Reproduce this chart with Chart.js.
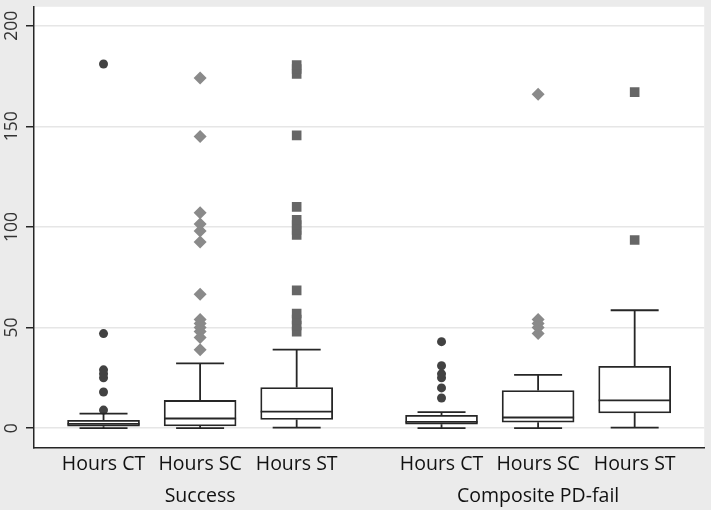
<!DOCTYPE html>
<html>
<head>
<meta charset="utf-8">
<script src="https://cdn.jsdelivr.net/npm/chart.js@4/dist/chart.umd.min.js"></script>
<style>
  html, body { margin: 0; padding: 0; background: #ebebeb; }
  canvas { display: block; }
</style>
</head>
<body>
<canvas id="boxChart" width="711" height="510"></canvas>
<script>
// chart data
const groupLabels = ["Success", "Composite PD-fail"];
const measureLabels = ["Hours CT", "Hours SC", "Hours ST"];
const yTicks = [0, 50, 100, 150, 200];

// one entry per box: Success CT, SC, ST, then Composite PD-fail CT, SC, ST
const lowerWhisker = [0, 0, 0.3, 0, 0, 0.3];
const q1 = [1, 1.1, 4.3, 2, 3, 7.6];
const median = [2.1, 4.8, 8.2, 3.1, 5.3, 13.8];
const q3 = [3.9, 13.8, 20.2, 6.4, 18.7, 30.7];
const upperWhisker = [7.2, 32.2, 39, 8, 26.5, 58.6];
const outliers = [
  [9, 18, 25, 27, 29, 47, 181],
  [39, 45, 48, 50, 52, 54, 66.5, 92.5, 98, 101.5, 107, 145, 174],
  [48, 51, 54, 57, 68.5, 96, 98.5, 101, 103.5, 110, 145.5, 176, 178.5, 180.5],
  [15, 20, 25, 27, 31, 43],
  [47, 50, 52, 54, 166],
  [93.5, 167]
];

// x position of each box on the linear axis (groups separated by a wider gap)
function xPos(i) {
  return i + 1 + (i >= 3 ? 0.5 : 0);
}
const boxCount = q1.length;

const boxData = [];
for (let i = 0; i < boxCount; i++) {
  boxData.push({ x: xPos(i), y: [q1[i], q3[i]] });
}

// outlier points split by measure so each gets its own marker
function outlierPoints(measure) {
  const pts = [];
  for (let i = 0; i < boxCount; i++) {
    if (i % 3 !== measure) continue;
    outliers[i].forEach((v) => pts.push({ x: xPos(i), y: v }));
  }
  return pts;
}

const lineColor = "#262626";
const boxLine = 1.8;

// background: grey page, white plot region
const backgroundPlugin = {
  id: "background",
  beforeDraw(chart) {
    const { ctx, chartArea } = chart;
    ctx.save();
    ctx.fillStyle = "#ebebeb";
    ctx.fillRect(0, 0, chart.width, chart.height);
    ctx.fillStyle = "#ffffff";
    ctx.fillRect(chartArea.left, chartArea.top, chartArea.right - chartArea.left, chartArea.bottom - chartArea.top);
    ctx.restore();
  }
};

// medians, whiskers and caps for the boxes
const whiskerPlugin = {
  id: "whiskers",
  afterDatasetsDraw(chart) {
    const { ctx } = chart;
    const xs = chart.scales.x;
    const ys = chart.scales.y;
    const halfBox = 36;
    const halfCap = 24;
    ctx.save();
    ctx.strokeStyle = lineColor;
    ctx.lineWidth = boxLine;
    for (let i = 0; i < boxCount; i++) {
      const cx = xs.getPixelForValue(xPos(i));
      const yMed = ys.getPixelForValue(median[i]);
      const yQ1 = ys.getPixelForValue(q1[i]);
      const yQ3 = ys.getPixelForValue(q3[i]);
      const yLo = ys.getPixelForValue(lowerWhisker[i]);
      const yHi = ys.getPixelForValue(upperWhisker[i]);
      ctx.beginPath();
      ctx.moveTo(cx - halfBox, yMed);
      ctx.lineTo(cx + halfBox, yMed);
      ctx.moveTo(cx, yQ3);
      ctx.lineTo(cx, yHi);
      ctx.moveTo(cx - halfCap, yHi);
      ctx.lineTo(cx + halfCap, yHi);
      ctx.moveTo(cx, yQ1);
      ctx.lineTo(cx, yLo);
      ctx.moveTo(cx - halfCap, yLo);
      ctx.lineTo(cx + halfCap, yLo);
      ctx.stroke();
    }
    ctx.restore();
  }
};

// rotated y tick labels
const yLabelPlugin = {
  id: "yLabels",
  afterDraw(chart) {
    const { ctx } = chart;
    const ys = chart.scales.y;
    ctx.save();
    ctx.fillStyle = "#333";
    ctx.font = "17.5px 'Open Sans'";
    ctx.textAlign = "center";
    ctx.textBaseline = "middle";
    ys.ticks.forEach((t) => {
      const py = ys.getPixelForValue(t.value);
      ctx.save();
      ctx.translate(12, py);
      ctx.rotate(-Math.PI / 2);
      ctx.fillText(String(t.value), 0, 0);
      ctx.restore();
    });
    ctx.restore();
  }
};

const ctx = document.getElementById("boxChart").getContext("2d");
new Chart(ctx, {
  data: {
    datasets: [
      {
        type: "bar",
        data: boxData,
        backgroundColor: "#ffffff",
        borderColor: lineColor,
        borderWidth: boxLine,
        borderSkipped: false,
        barThickness: 72,
        order: 2
      },
      {
        type: "scatter",
        data: outlierPoints(0),
        pointStyle: "circle",
        pointRadius: 4.5,
        backgroundColor: "#424242",
        borderColor: "#424242",
        borderWidth: 0,
        order: 1
      },
      {
        type: "scatter",
        data: outlierPoints(1),
        pointStyle: "rectRot",
        pointRadius: 6.5,
        backgroundColor: "#8a8a8a",
        borderColor: "#8a8a8a",
        borderWidth: 0,
        order: 1
      },
      {
        type: "scatter",
        data: outlierPoints(2),
        pointStyle: "rect",
        pointRadius: 6.8,
        backgroundColor: "#666666",
        borderColor: "#666666",
        borderWidth: 0,
        order: 1
      }
    ]
  },
  options: {
    responsive: false,
    animation: false,
    layout: { padding: { top: 3, right: 3, left: 0, bottom: 0 } },
    plugins: {
      legend: { display: false },
      tooltip: { enabled: false }
    },
    scales: {
      x: {
        type: "linear",
        position: "bottom",
        min: 0.28,
        max: 7.22,
        offset: false,
        weight: 0,
        afterBuildTicks: (scale) => {
          scale.ticks = [];
          for (let i = 0; i < boxCount; i++) scale.ticks.push({ value: xPos(i) });
        },
        afterFit: (scale) => { scale.height = 30; },
        grid: { display: false, drawTicks: false, offset: false },
        border: { display: true, color: lineColor, width: 1.5 },
        ticks: {
          autoSkip: false,
          maxRotation: 0,
          padding: 5,
          color: "#111",
          font: { family: "'Open Sans'", size: 19.5 },
          callback: (v, i) => measureLabels[i % 3]
        }
      },
      x2: {
        type: "linear",
        position: "bottom",
        min: 0.28,
        max: 7.22,
        offset: false,
        weight: 1,
        afterBuildTicks: (scale) => {
          scale.ticks = [{ value: xPos(1) }, { value: xPos(4) }];
        },
        afterFit: (scale) => { scale.height = 32; },
        grid: { display: false, drawTicks: false },
        border: { display: false },
        ticks: {
          autoSkip: false,
          maxRotation: 0,
          padding: 7,
          color: "#111",
          font: { family: "'Open Sans'", size: 19.5 },
          callback: (v, i) => groupLabels[i]
        }
      },
      y: {
        min: -9.85,
        max: 209.4,
        afterBuildTicks: (scale) => {
          scale.ticks = yTicks.map((v) => ({ value: v }));
        },
        afterFit: (scale) => { scale.width = 34; },
        grid: {
          color: "#e6e6e6",
          lineWidth: 1.5,
          drawTicks: true,
          tickLength: 8,
          tickColor: lineColor
        },
        border: { display: true, color: lineColor, width: 1.5 },
        ticks: { display: false }
      }
    }
  },
  plugins: [backgroundPlugin, whiskerPlugin, yLabelPlugin]
});
</script>
</body>
</html>
